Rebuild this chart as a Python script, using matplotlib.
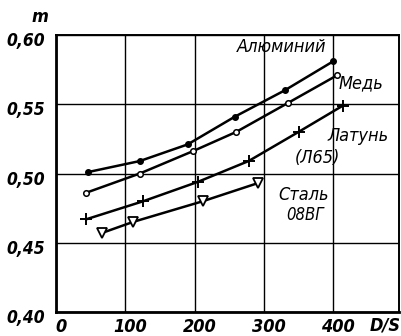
import matplotlib
matplotlib.use("Agg")
import matplotlib.pyplot as plt
from matplotlib.transforms import ScaledTranslation

# m versus D/S for four sheet materials
alu_x = [46, 121, 190, 258, 330, 400]
alu_y = [0.501, 0.509, 0.521, 0.541, 0.560, 0.581]

cu_x = [43, 121, 197, 260, 335, 406]
cu_y = [0.486, 0.500, 0.516, 0.530, 0.551, 0.571]

brass_x = [44, 126, 205, 278, 350, 414]
brass_y = [0.467, 0.480, 0.494, 0.509, 0.530, 0.549]

steel_x = [66, 111, 212, 291]
steel_y = [0.457, 0.465, 0.480, 0.493]

x_ticks = [0, 100, 200, 300, 400]
x_ticklabels = ["0", "100", "200", "300", "400"]
y_ticks = [0.40, 0.45, 0.50, 0.55, 0.60]
y_ticklabels = ["0,40", "0,45", "0,50", "0,55", "0,60"]

TICKFONT = dict(family="DejaVu Sans", style="italic", weight="bold", stretch="condensed")
LABELFONT = dict(family="DejaVu Sans", style="italic", weight="normal", stretch="condensed")

fig = plt.figure(figsize=(4.01, 3.36), dpi=100)
ax = fig.add_axes([56 / 401, 24 / 336, 343 / 401, 277 / 336])

ax.set_xlim(0, 495)
ax.set_ylim(0.40, 0.60)
ax.set_xticks(x_ticks)
ax.set_yticks(y_ticks)
ax.set_xticklabels(x_ticklabels, fontsize=13, **TICKFONT)
ax.set_yticklabels(y_ticklabels, fontsize=12.5, **TICKFONT)
ax.tick_params(axis="x", length=0, pad=4)
ax.tick_params(axis="y", length=0, pad=8)
for lab in ax.get_xticklabels():
    lab.set_transform(lab.get_transform() + ScaledTranslation(5 / 100, 0, fig.dpi_scale_trans))
for lab in ax.get_yticklabels():
    lab.set_transform(lab.get_transform() + ScaledTranslation(0, -4 / 100, fig.dpi_scale_trans))

ax.grid(True, color="black", linewidth=1.0)
ax.set_axisbelow(True)
for side in ["left", "bottom"]:
    ax.spines[side].set_linewidth(2.0)
for side in ["top", "right"]:
    ax.spines[side].set_linewidth(1.4)

lw = 1.8
ax.plot(alu_x, alu_y, color="black", lw=lw, marker="o", ms=4,
        mfc="black", mec="black", zorder=3)
ax.plot(cu_x, cu_y, color="black", lw=lw, marker="o", ms=4,
        mfc="white", mec="black", mew=1.1, zorder=3)
ax.plot(brass_x, brass_y, color="black", lw=lw, marker="+", ms=9,
        mew=1.4, zorder=3)
ax.plot(steel_x, steel_y, color="black", lw=lw, marker="v", ms=7,
        mfc="white", mec="black", mew=1.3, zorder=3)

# curve labels
ax.text(325, 0.591, "Алюминий", fontsize=13, ha="center", va="center", **LABELFONT)
ax.text(440, 0.565, "Медь", fontsize=13, ha="center", va="center", **LABELFONT)
ax.text(436, 0.527, "Латунь", fontsize=13, ha="center", va="center", **LABELFONT)
ax.text(378, 0.5115, "(Л65)", fontsize=13, ha="center", va="center", **LABELFONT)
ax.text(358, 0.4845, "Сталь", fontsize=13, ha="center", va="center", **LABELFONT)
ax.text(359, 0.470, "08ВГ", fontsize=12, ha="center", va="center", **LABELFONT)

# axis titles
fig.text(40 / 401, 1 - 17 / 336, "m", fontsize=13, ha="center", va="center", **TICKFONT)
fig.text(385 / 401, 1 - 325 / 336, "D/S", fontsize=13, ha="center", va="center", **TICKFONT)

fig.savefig("out.png", dpi=100, facecolor="white")
